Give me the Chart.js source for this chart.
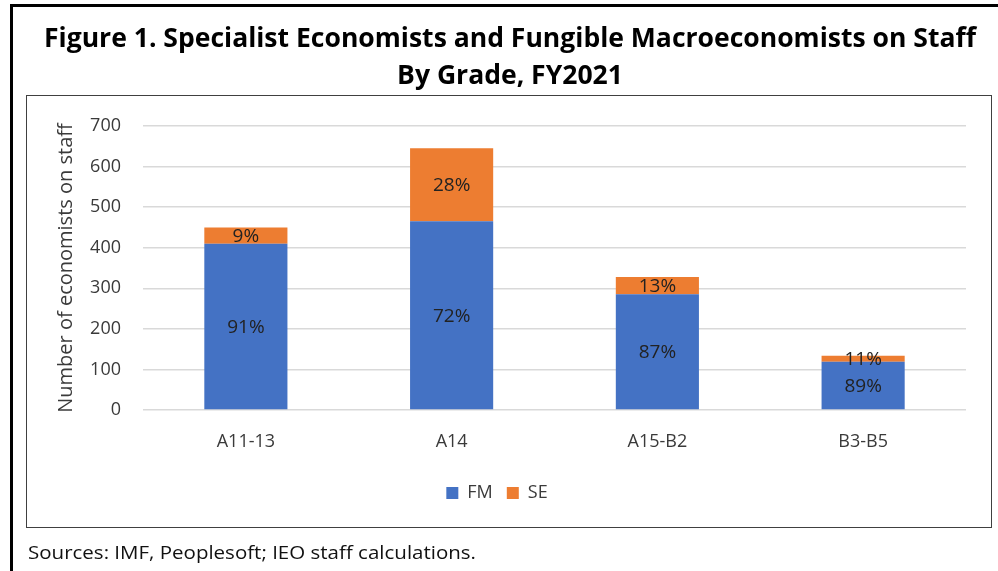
<!DOCTYPE html>
<html>
<head>
<meta charset="utf-8">
<script src="https://cdn.jsdelivr.net/npm/chart.js@4"></script>
<style>
  html, body { margin: 0; padding: 0; background: #fff; }
  #wrap { width: 998px; height: 571px; }
</style>
</head>
<body>
<div id="wrap"><canvas id="chart" width="998" height="571"></canvas></div>
<script>
const grades = ["A11-13", "A14", "A15-B2", "B3-B5"];
const fmValues = [410, 465, 285, 119];
const seValues = [40, 180, 43, 15];
const yTicks = [0, 100, 200, 300, 400, 500, 600, 700];

const titleLines = [
  "Figure 1. Specialist Economists and Fungible Macroeconomists on Staff",
  "By Grade, FY2021"
];
const sourceText = "Sources: IMF, Peoplesoft; IEO staff calculations.";

const textFont = "'Open Sans', 'Noto Sans', sans-serif";
const textColor = "#3a3a3a";

// frame, title and source note around the chart
const framePlugin = {
  id: "frame",
  beforeDraw(chart) {
    const ctx = chart.ctx;
    ctx.save();
    ctx.fillStyle = "#fff";
    ctx.fillRect(0, 0, chart.width, chart.height);

    // thick outer borders (left and top)
    ctx.fillStyle = "#000";
    ctx.fillRect(10, 4, 3, chart.height - 4);
    ctx.fillRect(10, 4, chart.width - 10, 3);

    // inner chart box
    ctx.strokeStyle = "#404040";
    ctx.lineWidth = 1;
    ctx.strokeRect(26.5, 95.5, 965, 432);

    // title, squeezed to the reference width
    ctx.font = "bold 26px " + textFont;
    ctx.fillStyle = "#000";
    ctx.textAlign = "center";
    ctx.textBaseline = "alphabetic";
    const sx = 932 / ctx.measureText(titleLines[0]).width;
    [47, 84].forEach((y, i) => {
      ctx.save();
      ctx.translate(510, y);
      ctx.scale(sx, 1);
      ctx.fillText(titleLines[i], 0, 0);
      ctx.restore();
    });

    // source note
    ctx.font = "18px " + textFont;
    ctx.fillStyle = "#111";
    ctx.textAlign = "left";
    const ss = 448 / ctx.measureText(sourceText).width;
    ctx.save();
    ctx.translate(28, 559);
    ctx.scale(ss, 1);
    ctx.fillText(sourceText, 0, 0);
    ctx.restore();
    ctx.restore();
  }
};

// share of each segment, written in the middle of the segment
const shareLabels = {
  id: "shareLabels",
  afterDatasetsDraw(chart) {
    const ctx = chart.ctx;
    ctx.save();
    ctx.font = "19px " + textFont;
    ctx.fillStyle = "#222";
    ctx.textAlign = "center";
    ctx.textBaseline = "middle";
    chart.data.datasets.forEach((ds, di) => {
      const meta = chart.getDatasetMeta(di);
      meta.data.forEach((bar, i) => {
        const total = fmValues[i] + seValues[i];
        const pct = Math.round(ds.data[i] / total * 100) + "%";
        ctx.fillText(pct, bar.x, (bar.y + bar.base) / 2 + 1);
      });
    });
    ctx.restore();
  }
};

new Chart(document.getElementById("chart"), {
  type: "bar",
  data: {
    labels: grades,
    datasets: [
      { label: "FM", data: fmValues, backgroundColor: "#4472C4" },
      { label: "SE", data: seValues, backgroundColor: "#ED7D31" }
    ]
  },
  options: {
    responsive: false,
    animation: false,
    layout: { padding: { left: 28, right: 32, top: 126, bottom: 59 } },
    datasets: { bar: { categoryPercentage: 1, barPercentage: 0.404 } },
    plugins: {
      legend: {
        position: "bottom",
        labels: {
          boxWidth: 12,
          boxHeight: 12,
          padding: 14,
          color: textColor,
          font: { family: textFont, size: 18 }
        }
      },
      tooltip: { enabled: false },
      title: { display: false }
    },
    scales: {
      x: {
        stacked: true,
        grid: { display: false, drawTicks: false },
        border: { display: false },
        ticks: { padding: 21, color: textColor, font: { family: textFont, size: 18 } },
        afterFit(s) { s.height = 60; }
      },
      y: {
        stacked: true,
        min: 0,
        max: 700,
        afterBuildTicks(s) { s.ticks = yTicks.map(v => ({ value: v })); },
        grid: { color: "#D9D9D9", lineWidth: 1.5, drawTicks: false },
        border: { display: false },
        ticks: { padding: 22, color: textColor, font: { family: textFont, size: 18 } },
        title: {
          display: true,
          text: "Number of economists on staff",
          color: textColor,
          font: { family: textFont, size: 20 },
          padding: { top: 26, bottom: 0 }
        },
        afterFit(s) { s.width = 115; }
      }
    }
  },
  plugins: [framePlugin, shareLabels]
});
</script>
</body>
</html>
